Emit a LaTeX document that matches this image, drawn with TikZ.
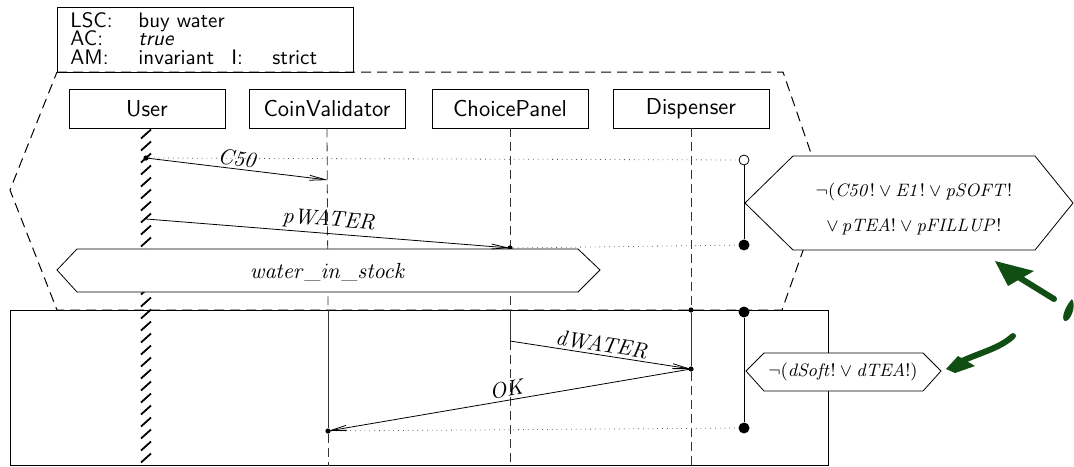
\documentclass[tikz,border=0pt]{standalone}
\usetikzlibrary{arrows.meta}
\definecolor{pen}{RGB}{16,78,20}
\begin{document}
\begin{tikzpicture}[x=0.5pt,y=-0.5pt,
  inst/.style={draw,inner sep=0pt,minimum width=78pt,minimum height=19.5pt,font=\fontsize{11.5}{13}\sffamily},
  hdrtxt/.style={anchor=base west,inner sep=0pt,font=\fontsize{10.5}{12}\sffamily},
  lifedash/.style={dashed,dash pattern=on 4.5pt off 2.5pt,black!80},
  lifesolid/.style={black!80},
  frame/.style={dashed,dash pattern=on 5pt off 3pt,line width=0.5pt},
  cond/.style={draw,fill=white},
  condtxt/.style={inner sep=0pt,font=\fontsize{9.5}{11}\selectfont,align=center},
  msg/.style={-{Straight Barb[length=8pt,width=2.5pt]}},
  msglbl/.style={sloped,above,inner sep=1.5pt,font=\fontsize{11}{13}\selectfont},
  dots/.style={dotted,black!65},
  sdot/.style={circle,fill,inner sep=0pt,minimum size=2.6pt},
  bdot/.style={circle,fill,inner sep=0pt,minimum size=5.5pt},
  odot/.style={circle,draw,fill=white,inner sep=0pt,minimum size=5pt},
  hatch/.style={line width=0.9pt}]
\useasboundingbox (0,0) rectangle (1074,466);

% header
\node[draw,inner sep=0pt,minimum width=148pt,minimum height=32.5pt,anchor=north west] (hdr) at (57,7) {};
\node[hdrtxt] (lsc) at (70,27) {LSC:};
\node[hdrtxt] (lscv) at (138,27) {buy water};
\node[hdrtxt] (ac) at (70,45) {AC:};
\node[hdrtxt] (acv) at (138,45) {\itshape true};
\node[hdrtxt] (am) at (70,64) {AM:};
\node[hdrtxt] (amv) at (138,64) {invariant};
\node[hdrtxt] (il) at (231,64) {I:};
\node[hdrtxt] (ilv) at (272,64) {strict};

% prechart frame
\draw[frame] (57,72) -- (783,72) -- (824,191) -- (782,310) -- (57,310) -- (10,190) -- cycle;
% main chart frame
\draw (10,310) rectangle (828,465);

% instances
\node[inst] (user) at (147,108.5) {User};
\node[inst] (coin) at (327,108.5) {CoinValidator};
\node[inst] (panel) at (510,108.5) {ChoicePanel};
\node[inst] (disp) at (691,108.5) {Dispenser};

% lifeline coordinates
\coordinate (cP) at (328,310);
\coordinate (pP) at (510,310);
\coordinate (dP) at (691,310);
\coordinate (cEnd) at (328,466);
\coordinate (pEnd) at (510,466);
\coordinate (dEnd) at (691,466);

% user hatched lifeline
\foreach \y in {134,146,...,458} \draw[hatch] (141,\y+4.5) -- (151,\y-4.5);

% prechart lifelines
\draw[lifedash] (coin.south) -- (cP);
\draw[lifedash] (panel.south) -- (pP);
\draw[lifedash] (disp.south) -- (dP);

% message end points
\node[sdot] (c50s) at (146,158) {};
\coordinate (c50r) at (328,180);
\coordinate (pws) at (146,219);
\node[sdot] (pwr) at (510,248) {};
\node[odot] (h1top) at (744,160) {};
\node[bdot] (h1bot) at (744,245) {};
\coordinate (dws) at (510,341);
\node[sdot] (dwr) at (691,369) {};
\node[sdot] (okr) at (328,431) {};
\node[sdot] (dtop) at (691,310) {};
\node[bdot] (h2top) at (744,312) {};
\node[bdot] (h2bot) at (744,428) {};

% main chart lifelines
\draw[lifesolid] (cP) -- (okr);
\draw[lifedash] (okr) -- (cEnd);
\draw[lifesolid] (pP) -- (dws);
\draw[lifedash] (dws) -- (pEnd);
\draw[lifesolid] (dtop) -- (dwr);
\draw[lifedash] (dwr) -- (dEnd);

% dotted time lines
\draw[dots] (c50s) -- (h1top);
\draw[dots] (pwr) -- (h1bot);
\draw[dots] (okr) -- (h2bot);

% hot condition bars
\draw (h1top) -- (h1bot);
\draw (h2top) -- (h2bot);

% conditions
\draw[cond] (57,270) -- (77,249) -- (578,249) -- (600,270) -- (578,292) -- (77,292) -- cycle;
\node[inner sep=0pt,font=\fontsize{11}{13}\selectfont] (wis) at (328,272) {$\mathit{water\_in\_stock}$};

\draw[cond] (745,203) -- (793,156) -- (1035,156) -- (1073,203) -- (1035,250) -- (793,250) -- cycle;
\node[condtxt] (c1) at (914,209) {$\neg(\mathit{C50}!\vee \mathit{E1}!\vee \mathit{pSOFT}!$\\[6.5pt]$\vee\,\mathit{pTEA}!\vee \mathit{pFILLUP}!$};

\draw[cond] (746,371) -- (764,353) -- (923,353) -- (941,371) -- (923,391) -- (764,391) -- cycle;
\node[condtxt] (c2) at (843,372) {$\neg(\mathit{dSoft}!\vee \mathit{dTEA}!)$};

% messages
\draw[msg] (c50s.center) -- node[msglbl,pos=0.5] (lc50) {$\mathit{C50}$} (c50r);
\draw[msg] (pws) -- node[msglbl] (lpw) {$\mathit{pWATER}$} (pwr.center);
\draw[msg] (dws) -- node[msglbl] (ldw) {$\mathit{dWATER}$} (dwr.center);
\draw[msg] (dwr.center) -- node[msglbl] (lok) {$\mathit{OK}$} (okr.center);

% hand-drawn green annotations
\draw[pen,line width=3pt,line cap=round] (1054,299) -- (1020,278);
\fill[pen] (995,261) -- (1034,271) -- (1008,286) -- cycle;
\fill[pen] (1072,299) .. controls (1077,306) and (1070,322) .. (1065,321) .. controls (1060,319) and (1066,305) .. (1072,299) -- cycle;
\draw[pen,line width=3pt,line cap=round] (1013,336) .. controls (1000,348) and (982,352) .. (962,361);
\fill[pen] (946,369) -- (958,356) -- (975,366) -- (955,373) -- cycle;
\end{tikzpicture}
\end{document}
